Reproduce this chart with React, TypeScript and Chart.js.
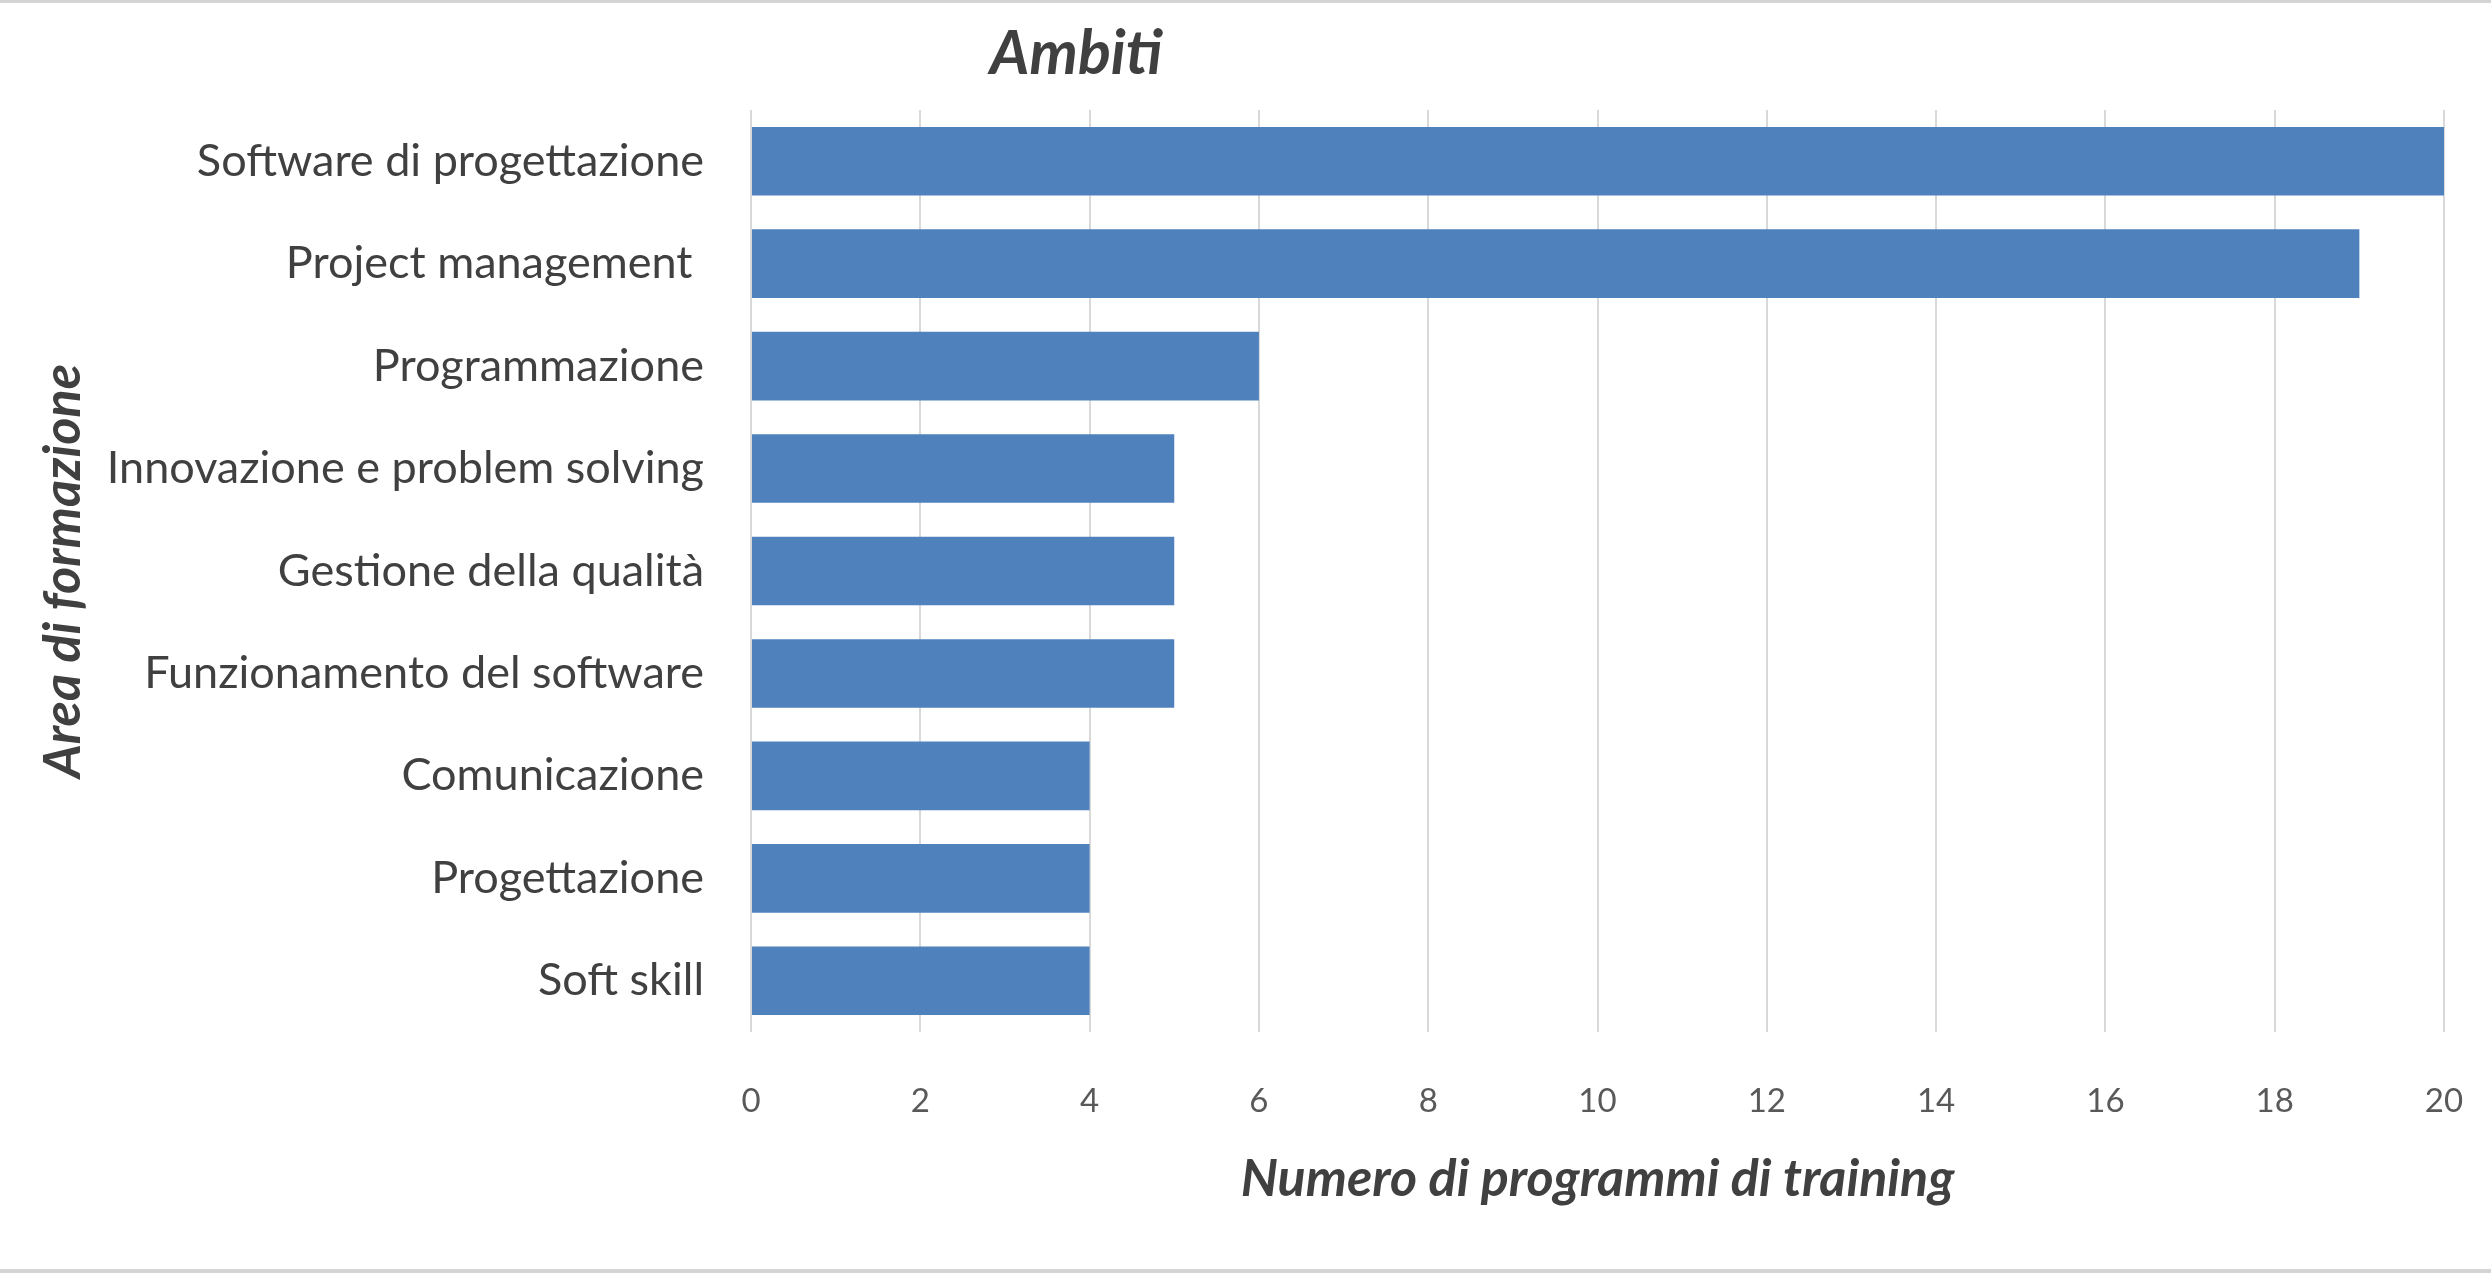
import React, { useEffect, useRef } from "react";
import { Chart, registerables } from "chart.js";

Chart.register(...registerables);

const categories: string[] = [
  "Software di progettazione",
  "Project management ",
  "Programmazione",
  "Innovazione e problem solving",
  "Gestione della qualità",
  "Funzionamento del software",
  "Comunicazione",
  "Progettazione",
  "Soft skill",
];
const values: number[] = [20, 19, 6, 5, 5, 5, 4, 4, 4];
const chartTitle = "Ambiti";
const xTitle = "Numero di programmi di training";
const yTitle = "Area di formazione";
const xMin = 0;
const xMax = 20;
const xStep = 2;

const FONT = "Lato, 'Open Sans', sans-serif";

const titlePlugin = {
  id: "customTitle",
  beforeDraw(chart: any) {
    const { ctx, width, height } = chart;
    ctx.save();
    ctx.fillStyle = "#ffffff";
    ctx.fillRect(0, 0, width, height);
    ctx.fillStyle = "#d4d4d4";
    ctx.fillRect(0, 0, width, 3);
    ctx.fillRect(0, height - 4, width, 4);
    ctx.restore();
  },
  afterDraw(chart: any) {
    const { ctx, width } = chart;
    ctx.save();
    ctx.font = `italic bold 61px ${FONT}`;
    ctx.fillStyle = "#404040";
    ctx.textAlign = "center";
    ctx.textBaseline = "middle";
    ctx.fillText(chartTitle, width * 0.432, 54);
    ctx.restore();
  },
};

export default function App() {
  const ref = useRef<HTMLCanvasElement | null>(null);
  useEffect(() => {
    if (!ref.current) return;
    const chart = new Chart(ref.current, {
      type: "bar",
      data: {
        labels: categories,
        datasets: [
          {
            data: values,
            backgroundColor: "#4f81bd",
            borderWidth: 0,
            categoryPercentage: 0.67,
            barPercentage: 1,
          },
        ],
      },
      options: {
        indexAxis: "y",
        animation: false,
        responsive: false,
        maintainAspectRatio: false,
        layout: { padding: { top: 110, right: 47, bottom: 0, left: 0 } },
        plugins: {
          legend: { display: false },
          tooltip: { enabled: false },
          title: { display: false },
        },
        scales: {
          x: {
            min: xMin,
            max: xMax,
            ticks: {
              stepSize: xStep,
              color: "#595959",
              font: { family: FONT, size: 33 },
              padding: 50,
            },
            grid: { color: "#d9d9d9", lineWidth: 2, drawTicks: false },
            border: { display: false },
            title: {
              display: true,
              text: xTitle,
              color: "#404040",
              font: { family: FONT, size: 52, style: "italic", weight: "bold" },
              padding: { top: 0, bottom: 63 },
            },
            afterFit(scale: any) {
              scale.height = 241;
              scale.paddingLeft = 0;
              scale.paddingRight = 0;
            },
          },
          y: {
            ticks: {
              color: "#404040",
              font: { family: FONT, size: 45 },
              padding: 47,
            },
            grid: { display: false, drawTicks: false },
            border: { display: false },
            title: {
              display: true,
              text: yTitle,
              color: "#404040",
              font: { family: FONT, size: 52, style: "italic", weight: "bold" },
              padding: { top: 32, bottom: 0 },
            },
            afterFit(scale: any) {
              scale.width = 751;
            },
          },
        },
      },
      plugins: [titlePlugin],
    });
    return () => chart.destroy();
  }, []);
  return (
    <div style={{ position: "fixed", left: 0, top: 0, width: 2491, height: 1273 }}>
      <canvas ref={ref} width={2491} height={1273} style={{ width: 2491, height: 1273 }} />
    </div>
  );
}
